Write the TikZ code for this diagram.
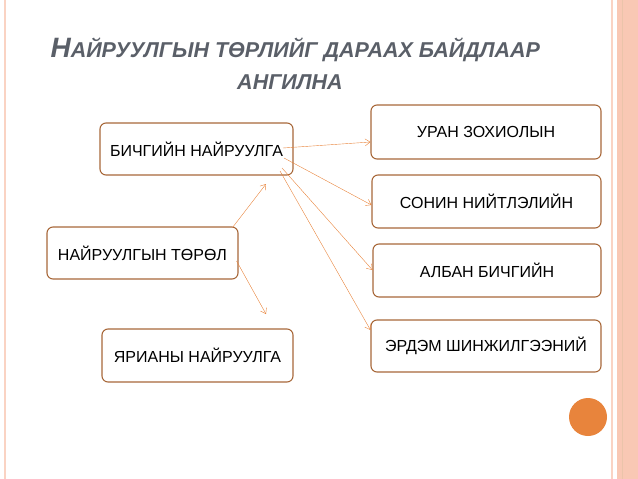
\documentclass[tikz,border=0pt]{standalone}
\usepackage{fontspec}
\setmainfont{Liberation Sans}
\usetikzlibrary{arrows.meta}
\definecolor{boxline}{HTML}{A8683A}
\definecolor{arrowline}{HTML}{E8843C}
\definecolor{titlegray}{HTML}{5A5F68}
\definecolor{band}{HTML}{F9C8B4}
\begin{document}
\begin{tikzpicture}[x=1pt,y=-1pt,
    item/.style={draw=boxline, line width=1.1pt, rounded corners=6pt, fill=white, font=\fontsize{16}{19}\selectfont},
    link/.style={draw=arrowline, -{Straight Barb[length=5pt,width=7pt]}}]
    \useasboundingbox (0,0) rectangle (638,479);
    % page frame
    \draw[band!80, line width=1.2pt] (5,0) -- (5,479);
    \draw[band!80, line width=1.5pt] (612,0) -- (612,479);
    \fill[band] (617,0) rectangle (638,479);
    \draw[band!60!brown!70, line width=0.6pt] (622,0) -- (622,479);
    \fill[arrowline] (588,417) circle (19);
    % title
    \node[anchor=west, text=titlegray, font=\bfseries\itshape] (title1) at (47,50)
      {\fontsize{28}{31}\selectfont Н\fontsize{21.5}{24}\selectfont АЙРУУЛГЫН ТӨРЛИЙГ ДАРААХ БАЙДЛААР};
    \node[text=titlegray, font=\bfseries\itshape\fontsize{21.5}{24}\selectfont] (title2) at (290,82) {АНГИЛНА};
    % boxes
    \node[item, minimum width=193pt, minimum height=52pt] (written) at (196.5,149) {БИЧГИЙН НАЙРУУЛГА};
    \node[item, minimum width=191pt, minimum height=52pt] (kind) at (142.5,253) {НАЙРУУЛГЫН ТӨРӨЛ};
    \node[item, minimum width=191pt, minimum height=53pt] (spoken) at (197.5,355.5) {ЯРИАНЫ НАЙРУУЛГА};
    \node[item, minimum width=230pt, minimum height=54pt] (fiction) at (486,132) {УРАН ЗОХИОЛЫН};
    \node[item, minimum width=229pt, minimum height=53pt] (press) at (486.5,201.5) {СОНИН НИЙТЛЭЛИЙН};
    \node[item, minimum width=228pt, minimum height=53pt] (official) at (487,270.5) {АЛБАН БИЧГИЙН};
    \node[item, minimum width=230pt, minimum height=52pt] (science) at (486,346) {ЭРДЭМ ШИНЖИЛГЭЭНИЙ};
    % arrows
    \coordinate (w1) at (283,148);
    \coordinate (w2) at (284,158);
    \coordinate (w3) at (282,168);
    \coordinate (w4) at (280,171);
    \draw[link] (w1) -- (fiction.west |- 0,142);
    \draw[link] (w2) -- (press.west |- 0,205);
    \draw[link] (w3) -- (official.west |- 0,270);
    \draw[link] (w4) -- (science.west |- 0,330);
    \coordinate (up) at (266,184);
    \coordinate (down) at (266,314);
    \draw[link] (kind.north east) ++(-6,1) -- (up);
    \draw[link] (kind.east) ++(-2,8) -- (down);
\end{tikzpicture}
\end{document}
